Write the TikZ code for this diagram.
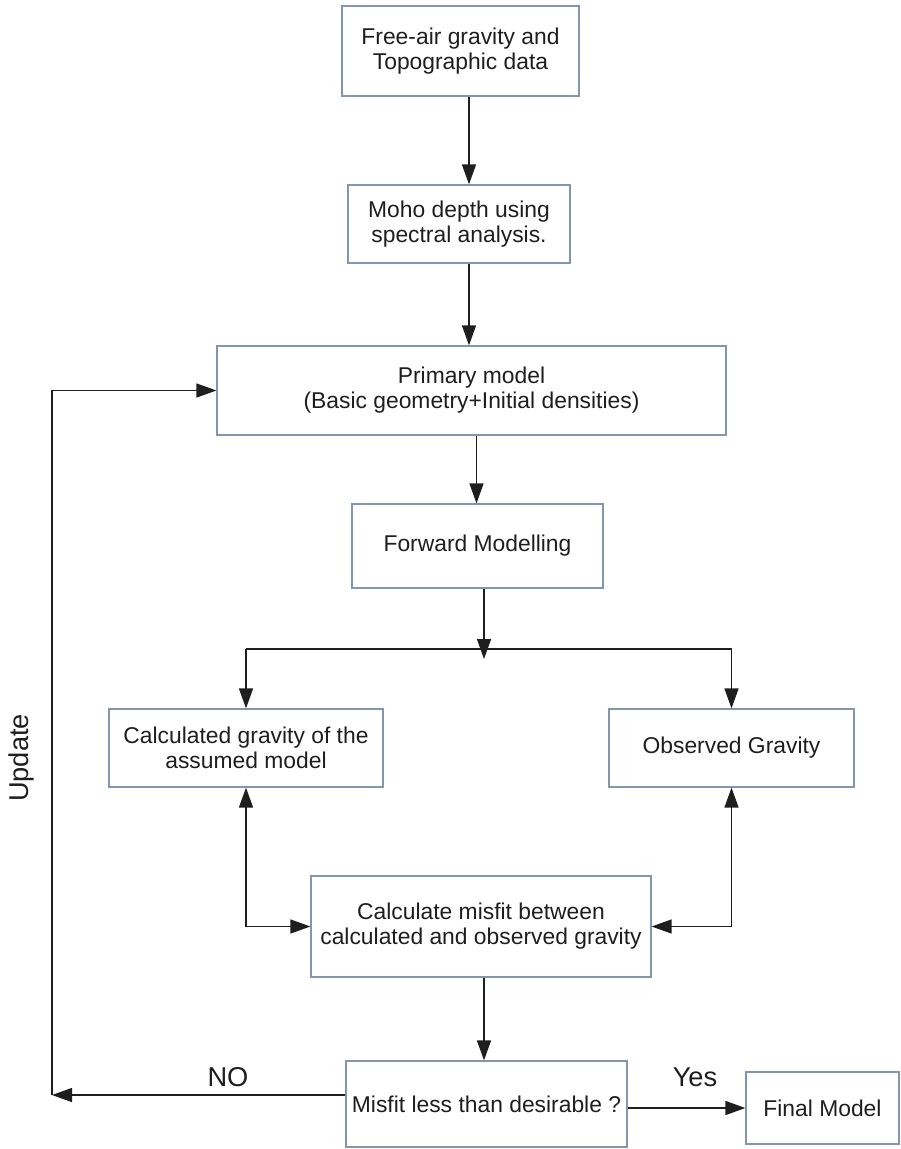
\documentclass[tikz,border=0pt]{standalone}
\usepackage{fontspec}
\setmainfont{Liberation Sans}
\usepackage{xcolor}
\usetikzlibrary{arrows.meta}
\definecolor{boxgray}{HTML}{8496AE}
\definecolor{inkgray}{HTML}{1E1E1E}

\begin{document}
\begin{tikzpicture}[color=inkgray, line width=0.8pt,
  blk/.style={draw=boxgray, line width=0.7pt, inner sep=0pt, align=center, font=\fontsize{13}{14.2}\selectfont},
  arr/.style={-{Triangle[length=0.4cm, width=0.28cm]}},
  darr/.style={{Triangle[length=0.4cm, width=0.28cm]}-{Triangle[length=0.4cm, width=0.28cm]}},
  lbl/.style={font=\fontsize{15.5}{17}\selectfont}]
\useasboundingbox (0,0) rectangle (18,-22.98);
\node[blk, minimum width=4.74cm, minimum height=1.8cm] (free) at (9.21,-1.02) {Free-air gravity and\\Topographic data};
\node[blk, minimum width=4.44cm, minimum height=1.56cm] (moho) at (9.18,-4.48) {Moho depth using\\spectral analysis.};
\node[blk, minimum width=10.18cm, minimum height=1.78cm] (prim) at (9.43,-7.81) {Primary model\\(Basic geometry+Initial densities)};
\node[blk, minimum width=5.02cm, minimum height=1.68cm] (fwd) at (9.55,-10.92) {Forward Modelling};
\node[blk, minimum width=5.48cm, minimum height=1.56cm] (calc) at (4.92,-14.96) {Calculated gravity of the\\assumed model};
\node[blk, minimum width=4.9cm, minimum height=1.56cm] (obs) at (14.63,-14.96) {Observed Gravity};
\node[blk, minimum width=6.8cm, minimum height=2.02cm] (misfit) at (9.62,-18.53) {Calculate misfit between\\calculated and observed gravity};
\node[blk, minimum width=5.62cm, minimum height=1.72cm] (dec) at (9.73,-22.08) {Misfit less than desirable ?};
\node[blk, minimum width=3.06cm, minimum height=1.44cm] (final) at (16.45,-22.16) {Final Model};
\node[lbl] (no) at (4.56,-21.54) {NO};
\node[lbl] (yes) at (13.9,-21.54) {Yes};
\node[lbl, rotate=90] (update) at (0.42,-15.16) {Update};
\coordinate (c1) at (9.38,0);
\coordinate (c2) at (9.53,0);
\coordinate (fork) at (9.68,-13.18);
\coordinate (bl) at (4.92,-12.98);
\coordinate (br) at (14.63,-12.98);
\coordinate (upd) at (1.04,-21.9);
\draw[arr] (free.south -| c1) -- (moho.north -| c1);
\draw[arr] (moho.south -| c1) -- (prim.north -| c1);
\draw[arr] (prim.south -| c2) -- (fwd.north -| c2);
\draw[arr] (fwd.south -| fork) -- (fork);
\draw (bl) -- (br);
\draw[arr] (bl) -- (calc);
\draw[arr] (br) -- (obs);
\draw[darr] (calc.south) |- (misfit.west);
\draw[darr] (obs.south) |- (misfit.east);
\draw[arr] (misfit.south -| fork) -- (dec.north -| fork);
\draw[arr] (dec.west |- upd) -- (upd);
\draw[arr] (upd) |- (prim.west);
\draw[arr] (dec.east |- final) -- (final.west);
\end{tikzpicture}
\end{document}
